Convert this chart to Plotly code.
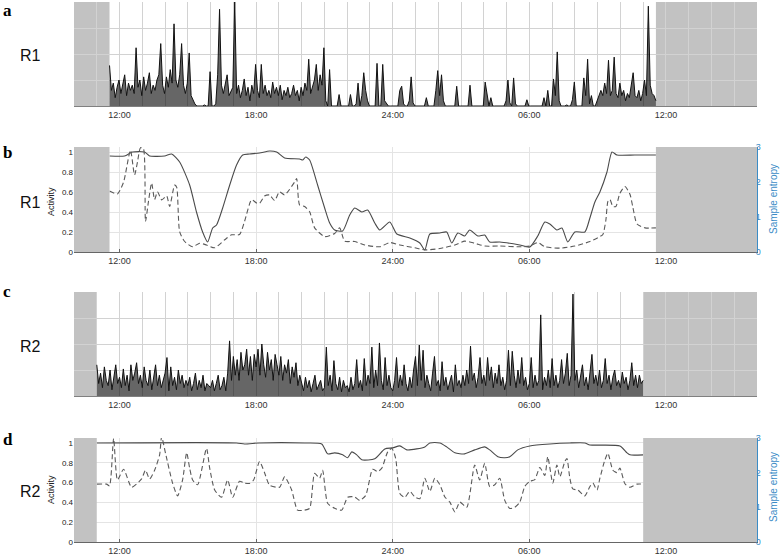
import plotly.graph_objects as go

# ---------------- data ----------------
# time axis in hours (10 = 10:00 day 1, 40 = 16:00 day 2)
tick_vals = [12, 18, 24, 30, 36]
tick_text = ["12:00", "18:00", "24:00", "06:00", "12:00"]

r1_start, r1_end = 11.56, 35.56
r2_start, r2_end = 11.0, 35.0
step_h = 5 / 60.0

# panel a: R1 raw activity, 5-min samples from r1_start
r1_raw = [
    0.39,0.15,0.22,0.08,0.18,0.25,0.12,0.2,0.3,0.1,0.22,0.15,
    0.2,0.12,0.56,0.18,0.25,0.1,0.28,0.15,0.22,0.32,0.12,0.2,
    0.15,0.25,0.3,0.6,0.2,0.12,0.28,0.18,0.35,0.22,0.79,0.25,
    0.18,0.3,0.6,0.2,0.12,0.22,0.51,0.1,0.05,0.02,0,0,
    0,0,0.01,0,0,0.33,0,0,0.02,0.3,0.93,0.2,
    0.12,0.22,0.3,0.1,0.15,0.18,1.0,0.12,0.2,0.08,0.15,0.26,
    0.1,0.18,0.05,0.2,0.12,0.4,0.15,0.08,0.4,0.12,0.2,0.1,
    0.15,0.08,0.23,0.12,0.18,0.1,0.2,0.06,0.15,0.1,0.18,0.08,
    0.12,0.2,0.1,0.15,0.05,0.18,0.1,0.22,0.15,0.45,0.12,0.2,
    0.25,0.4,0.15,0.3,0.2,0.56,0.05,0,0.35,0,0,0,
    0,0.11,0,0,0,0,0,0.11,0,0,0.02,0.22,
    0,0.1,0.32,0.15,0.05,0,0,0,0,0.41,0,0,
    0.4,0.05,0.02,0,0,0,0,0,0,0.15,0.19,0.02,
    0,0,0.05,0.28,0.03,0,0,0,0,0,0,0.08,
    0,0,0,0,0.15,0.34,0.1,0.3,0.05,0,0,0,
    0,0,0,0.19,0,0,0,0,0,0,0.2,0,
    0,0,0,0,0,0,0.23,0.12,0,0.08,0,0,
    0,0,0,0,0,0.05,0.25,0.03,0,0.27,0.02,0,
    0,0,0,0,0.06,0,0,0,0,0,0,0,
    0,0.08,0,0.15,0,0,0.26,0.1,0.52,0.05,0,0,
    0,0.01,0,0,0.06,0.23,0,0,0,0,0.27,0.1,
    0.45,0.02,0.1,0,0,0.05,0.08,0.15,0.1,0.22,0.12,0.44,
    0.1,0.15,0.47,0.12,0.08,0.22,0.1,0.15,0.05,0.12,0.08,0.18,
    0.32,0.1,0.08,0.15,0.05,0.12,0.25,0.1,0.96,0.2,0.12,0.1,
    0.05,
]

# panel c: R2 raw activity, 5-min samples from r2_start
r2_raw = [
    0.3,0.12,0.22,0.08,0.28,0.15,0.1,0.25,0.06,0.2,0.3,0.12,
    0.18,0.08,0.26,0.1,0.2,0.05,0.3,0.15,0.22,0.32,0.12,0.2,
    0.08,0.28,0.15,0.1,0.25,0.06,0.18,0.3,0.1,0.2,0.08,0.15,
    0.22,0.37,0.05,0.28,0.1,0.18,0.06,0.25,0.12,0.2,0.08,0.15,
    0.1,0.18,0.05,0.12,0.22,0.06,0.15,0.08,0.2,0.05,0.12,0.1,
    0.08,0.15,0.05,0.12,0.2,0.06,0.1,0.18,0.05,0.22,0.53,0.15,
    0.38,0.2,0.35,0.15,0.42,0.25,0.3,0.45,0.2,0.38,0.15,0.4,
    0.28,0.45,0.2,0.5,0.3,0.18,0.42,0.25,0.35,0.15,0.4,0.3,
    0.2,0.38,0.15,0.3,0.22,0.35,0.12,0.28,0.18,0.32,0.1,0.2,
    0.12,0.05,0.18,0.08,0.15,0.04,0.12,0.2,0.06,0.1,0.15,0.05,
    0.08,0.47,0.1,0.2,0.05,0.34,0.12,0.06,0.18,0.04,0.15,0.08,
    0.1,0.04,0.18,0.06,0.12,0.35,0.08,0.15,0.05,0.36,0.1,0.2,
    0.12,0.47,0.08,0.25,0.1,0.51,0.15,0.06,0.37,0.1,0.2,0.08,
    0.05,0.15,0.37,0.08,0.2,0.1,0.3,0.12,0.05,0.18,0.08,0.25,
    0.38,0.1,0.49,0.15,0.44,0.08,0.2,0.12,0.05,0.22,0.38,0.1,
    0.15,0.05,0.33,0.1,0.18,0.06,0.12,0.2,0.04,0.3,0.1,0.15,
    0.08,0.2,0.1,0.25,0.12,0.48,0.15,0.22,0.08,0.18,0.37,0.12,
    0.2,0.1,0.37,0.15,0.28,0.08,0.22,0.12,0.3,0.1,0.18,0.06,
    0.15,0.44,0.1,0.43,0.2,0.08,0.25,0.12,0.37,0.1,0.18,0.06,
    0.12,0.37,0.08,0.2,0.1,0.15,0.78,0.06,0.18,0.1,0.25,0.08,
    0.36,0.1,0.2,0.08,0.15,0.35,0.12,0.22,0.41,0.1,0.2,0.98,
    0.15,0.25,0.08,0.2,0.3,0.1,0.18,0.06,0.22,0.4,0.12,0.2,
    0.1,0.25,0.08,0.15,0.36,0.12,0.2,0.06,0.18,0.25,0.1,0.15,
    0.08,0.23,0.12,0.18,0.06,0.15,0.32,0.1,0.2,0.08,0.2,0.12,
    0.15,
]

# panel b: R1 smoothed activity (left axis) and sample entropy (right axis)
b_act_t = [11.56,12.22,12.57,13.1,13.32,13.98,14.29,14.64,15.08,15.38,15.65,15.87,16.09,16.26,
           16.53,16.84,17.14,17.41,17.71,18.15,18.59,18.9,19.25,19.91,20.04,20.18,20.35,20.7,
           21.01,21.23,21.45,21.8,22.11,22.33,22.64,22.9,23.21,23.43,23.87,24.18,24.75,25.19,
           25.41,25.63,26.07,26.37,26.59,26.86,27.16,27.38,27.74,28.04,28.26,28.7,29.58,30.02,
           30.37,30.68,30.9,31.21,31.43,31.69,32.0,32.44,32.66,32.88,33.1,33.41,33.63,33.85,
           34.64,35.56]
b_act_v = [0.96,0.96,1.0,1.0,0.96,0.96,0.98,0.9,0.67,0.4,0.2,0.1,0.24,0.27,
           0.44,0.67,0.87,0.97,0.98,0.99,1.01,1.0,0.94,0.93,0.92,0.95,0.92,0.67,
           0.44,0.29,0.22,0.21,0.37,0.44,0.4,0.42,0.29,0.22,0.3,0.18,0.14,0.09,
           0.02,0.18,0.19,0.2,0.09,0.19,0.16,0.22,0.16,0.17,0.1,0.1,0.07,0.05,
           0.16,0.3,0.28,0.22,0.24,0.1,0.2,0.2,0.34,0.5,0.6,0.8,1.0,0.97,
           0.97,0.97]
b_ent_t = [11.56,11.91,12.18,12.48,12.66,12.79,12.92,13.05,13.14,13.27,13.41,13.54,13.67,13.85,
           14.07,14.2,14.42,14.51,14.64,14.86,15.21,15.52,15.82,16.18,16.62,16.92,17.27,17.49,
           17.8,18.02,18.15,18.37,18.59,18.81,19.03,19.25,19.69,19.78,19.91,20.13,20.35,20.57,
           21.01,21.45,21.67,21.89,22.33,22.77,23.43,23.87,24.31,24.97,25.41,26.07,26.73,27.16,
           27.6,28.04,28.7,29.58,30.02,30.37,30.68,31.34,32.0,32.66,33.1,33.23,33.36,33.45,
           33.54,33.67,33.8,33.98,34.2,34.42,34.55,34.73,35.08,35.56]
b_ent_v = [1.74,1.66,2.0,2.91,2.2,2.58,2.98,2.95,0.87,1.44,1.97,1.5,1.72,1.49,
           1.6,1.3,1.91,1.85,0.58,0.3,0.15,0.25,0.2,0.12,0.35,0.49,0.5,0.87,
           1.49,1.4,1.39,1.6,1.63,1.47,1.72,1.63,2.0,2.1,1.34,1.3,1.15,0.69,
           0.44,0.53,0.69,0.31,0.3,0.2,0.15,0.27,0.2,0.12,0.06,0.1,0.2,0.31,
           0.25,0.17,0.17,0.15,0.17,0.27,0.15,0.11,0.17,0.3,0.44,0.5,0.9,1.44,
           1.5,1.3,1.3,1.68,1.87,1.65,1.27,0.8,0.69,0.69]

# panel d: R2 smoothed activity and sample entropy
d_act_t = [11.0,17.14,17.49,18.15,20.13,20.88,21.14,21.45,21.8,22.02,22.2,22.42,22.64,23.21,
           23.65,24.0,24.31,24.62,25.05,25.41,25.63,26.07,26.37,26.73,27.16,27.6,28.04,28.26,
           28.62,28.92,29.14,29.49,30.02,30.9,31.78,32.44,32.66,33.98,34.29,34.42,35.0]
d_act_v = [1.0,1.0,0.99,1.0,1.0,0.99,0.89,0.9,0.88,0.85,0.91,0.88,0.83,0.84,
           0.94,0.95,0.97,0.93,0.94,0.96,1.0,1.0,0.96,0.9,0.89,0.93,0.96,0.93,
           0.86,0.85,0.86,0.93,0.97,0.99,1.0,1.0,0.98,0.97,0.9,0.88,0.88]
d_ent_t = [11.0,11.43,11.56,11.74,11.91,12.18,12.53,12.97,13.14,13.32,13.54,13.76,13.85,14.02,
           14.33,14.55,14.77,14.95,15.08,15.21,15.43,15.82,15.96,16.18,16.48,16.75,16.97,17.27,
           17.49,17.71,17.89,18.15,18.37,18.59,19.03,19.25,19.56,19.82,20.13,20.35,20.57,20.79,
           20.92,21.14,21.45,21.76,22.02,22.33,22.55,22.81,23.12,23.34,23.52,23.78,23.96,24.13,
           24.31,24.53,24.75,24.97,25.19,25.41,25.63,25.85,26.07,26.29,26.51,26.73,26.95,27.25,
           27.6,27.82,28.04,28.26,28.48,28.7,28.92,29.14,29.36,29.58,29.8,30.02,30.24,30.46,
           30.68,30.81,31.03,31.21,31.34,31.56,31.65,31.78,31.91,32.13,32.44,32.66,32.79,32.97,
           33.1,33.32,33.45,33.67,33.85,33.98,34.2,34.42,34.73,35.0]
d_ent_v = [1.67,1.67,1.62,2.99,1.79,2.1,1.58,1.82,2.07,1.82,2.07,2.51,3.04,2.56,
           1.7,1.33,1.79,2.58,2.13,1.79,1.65,2.7,2.13,1.5,1.29,1.79,1.29,1.75,
           1.7,1.69,1.79,2.32,2.0,1.64,1.58,1.88,1.5,0.92,0.92,0.97,1.98,1.84,
           2.07,1.12,0.97,0.92,1.29,1.3,1.2,1.34,2.1,2.03,2.13,2.6,2.7,2.41,
           1.4,1.29,1.46,1.3,1.25,1.84,1.46,1.84,1.65,1.3,1.15,0.87,1.15,1.0,
           2.22,1.79,2.27,1.6,1.65,1.84,1.2,0.97,1.0,1.15,1.6,1.75,1.8,2.15,
           1.92,2.46,1.7,2.22,1.88,2.32,2.41,1.84,1.53,1.5,1.33,1.6,1.7,1.5,
           1.84,2.37,2.56,2.07,2.0,2.13,1.68,1.58,1.67,1.67]

r1_t = [r1_start + i * step_h for i in range(len(r1_raw))]
r2_t = [r2_start + i * step_h for i in range(len(r2_raw))]

# ---------------- figure ----------------
W, H = 780, 555
def px_x(x):
    return min(1, max(0, x / W))
def px_y(y):
    return min(1, max(0, 1 - y / H))
xdom = [px_x(74), px_x(757)]
def ydom(top, bottom):
    return [px_y(bottom), px_y(top)]

FONT = "Liberation Sans, Arial, Helvetica, sans-serif"
BLUE = "#3b8cc6"
GRID_A = "#d2d2d2"
GRID_B = "#e4e4e4"
GRAY = "#c2c2c2"
RAW_FILL = "rgba(0,0,0,0.6)"

fig = go.Figure()
fig.add_trace(go.Scatter(x=r1_t, y=r1_raw, mode="lines", line=dict(color="#111", width=1),
                         fill="tozeroy", fillcolor=RAW_FILL,
                         xaxis="x", yaxis="y", hoverinfo="skip"))
fig.add_trace(go.Scatter(x=b_act_t, y=b_act_v, mode="lines", line=dict(color="#4a4a4a", width=1.1, shape="spline", smoothing=0.6),
                         xaxis="x2", yaxis="y2"))
fig.add_trace(go.Scatter(x=b_ent_t, y=b_ent_v, mode="lines", line=dict(color="#5a5a5a", width=1.1, dash="5px,3px", shape="spline", smoothing=0.6),
                         xaxis="x2", yaxis="y3"))
fig.add_trace(go.Scatter(x=r2_t, y=r2_raw, mode="lines", line=dict(color="#111", width=1),
                         fill="tozeroy", fillcolor=RAW_FILL,
                         xaxis="x3", yaxis="y4", hoverinfo="skip"))
fig.add_trace(go.Scatter(x=d_act_t, y=d_act_v, mode="lines", line=dict(color="#4a4a4a", width=1.1, shape="spline", smoothing=0.6),
                         xaxis="x4", yaxis="y5"))
fig.add_trace(go.Scatter(x=d_ent_t, y=d_ent_v, mode="lines", line=dict(color="#5a5a5a", width=1.1, dash="5px,3px", shape="spline", smoothing=0.6),
                         xaxis="x4", yaxis="y6"))

def xaxis(anchor, raw):
    d = dict(domain=xdom, anchor=anchor, range=[10, 40], tickmode="array",
             tickvals=tick_vals, ticktext=tick_text, showgrid=True,
             gridcolor=GRID_A if raw else GRID_B, gridwidth=1, zeroline=False,
             showline=True, linecolor="#808080" if raw else "#666", linewidth=1,
             tickfont=dict(family=FONT, size=9, color="#333"), automargin=False,
             fixedrange=True)
    if raw:
        d.update(ticks="", minor=dict(tickmode="linear", tick0=10, dtick=1, showgrid=True,
                                      gridcolor=GRID_A, gridwidth=1, ticks=""))
    else:
        d.update(ticks="inside", ticklen=3, tickcolor="#666")
    return d

def raw_yaxis(anchor, dom):
    return dict(domain=dom, anchor=anchor, range=[0, 1], tickmode="array",
                tickvals=[0, 0.25, 0.5, 0.75, 1], showticklabels=False, showgrid=True,
                gridcolor=GRID_A, zeroline=False, showline=False, ticks="", automargin=False,
                fixedrange=True)

def act_yaxis(anchor, dom):
    return dict(domain=dom, anchor=anchor, range=[0, 1.05], tickmode="array",
                tickvals=[0, 0.2, 0.4, 0.6, 0.8, 1], ticktext=["0", "0.2", "0.4", "0.6", "0.8", "1"],
                showgrid=True, gridcolor=GRID_B, zeroline=False, showline=False, ticks="",
                tickfont=dict(family=FONT, size=8, color="#222"), automargin=False,
                fixedrange=True)

def ent_yaxis(anchor, over):
    return dict(overlaying=over, anchor=anchor, side="right", range=[0, 3], tickmode="array",
                tickvals=[0, 1, 2, 3], showgrid=False, zeroline=False, showline=True,
                linecolor=BLUE, linewidth=1, ticks="inside", ticklen=3, tickcolor=BLUE,
                ticklabelstandoff=-4, fixedrange=True,
                tickfont=dict(family=FONT, size=9, color=BLUE), automargin=False)

dom_a = ydom(2, 106)
dom_b = ydom(147, 252)
dom_c = ydom(292, 396)
dom_d = ydom(438, 542)

fig.update_layout(
    width=W, height=H, autosize=False,
    margin=dict(l=0, r=0, t=0, b=0),
    paper_bgcolor="white", plot_bgcolor="white",
    showlegend=False,
    xaxis=xaxis("y", True), yaxis=raw_yaxis("x", dom_a),
    xaxis2=xaxis("y2", False), yaxis2=act_yaxis("x2", dom_b), yaxis3=ent_yaxis("x2", "y2"),
    xaxis3=xaxis("y4", True), yaxis4=raw_yaxis("x3", dom_c),
    xaxis4=xaxis("y5", False), yaxis5=act_yaxis("x4", dom_d), yaxis6=ent_yaxis("x4", "y5"),
)

# gray "no recording" areas
shapes = []
for xr, yr, s, e, layer in [("x", "y", r1_start, r1_end, "below"),
                            ("x2", "y2", r1_start, r1_end, "above"),
                            ("x3", "y4", r2_start, r2_end, "below"),
                            ("x4", "y5", r2_start, r2_end, "above")]:
    for x0, x1 in [(10, s), (e, 40)]:
        shapes.append(dict(type="rect", xref=xr, yref=yr + " domain", x0=x0, x1=x1, y0=0, y1=1,
                           fillcolor=GRAY, line=dict(width=0), layer=layer))
fig.update_layout(shapes=shapes)

ann = []
for letter, ypx in [("a", 10), ("b", 152), ("c", 291), ("d", 439)]:
    ann.append(dict(text="<b>" + letter + "</b>", x=px_x(2), y=px_y(ypx), xref="paper", yref="paper",
                    xanchor="left", yanchor="middle", showarrow=False, borderpad=0,
                    font=dict(family="Liberation Serif, Times New Roman, serif", size=17, color="#000")))
for lab, ypx in [("R1", 56), ("R1", 202), ("R2", 346), ("R2", 491)]:
    ann.append(dict(text=lab, x=px_x(18), y=px_y(ypx), xref="paper", yref="paper",
                    xanchor="left", yanchor="middle", showarrow=False,
                    font=dict(family=FONT, size=16, color="#111")))
for ypx in [202, 490]:
    ann.append(dict(text="Activity", x=px_x(51), y=px_y(ypx), xref="paper", yref="paper",
                    xanchor="center", yanchor="middle", textangle=-90, showarrow=False,
                    font=dict(family=FONT, size=9, color="#222")))
    ann.append(dict(text="Sample entropy", x=px_x(773), y=px_y(ypx - 3), xref="paper", yref="paper",
                    xanchor="center", yanchor="middle", textangle=-90, showarrow=False,
                    font=dict(family=FONT, size=10, color=BLUE)))
fig.update_layout(annotations=ann)

# remove the default page margin so the 780x555 figure fills the window exactly
fig.write_html("out.html", config={"displayModeBar": False},
               post_script="document.body.style.margin='0';document.body.style.overflow='hidden';")
